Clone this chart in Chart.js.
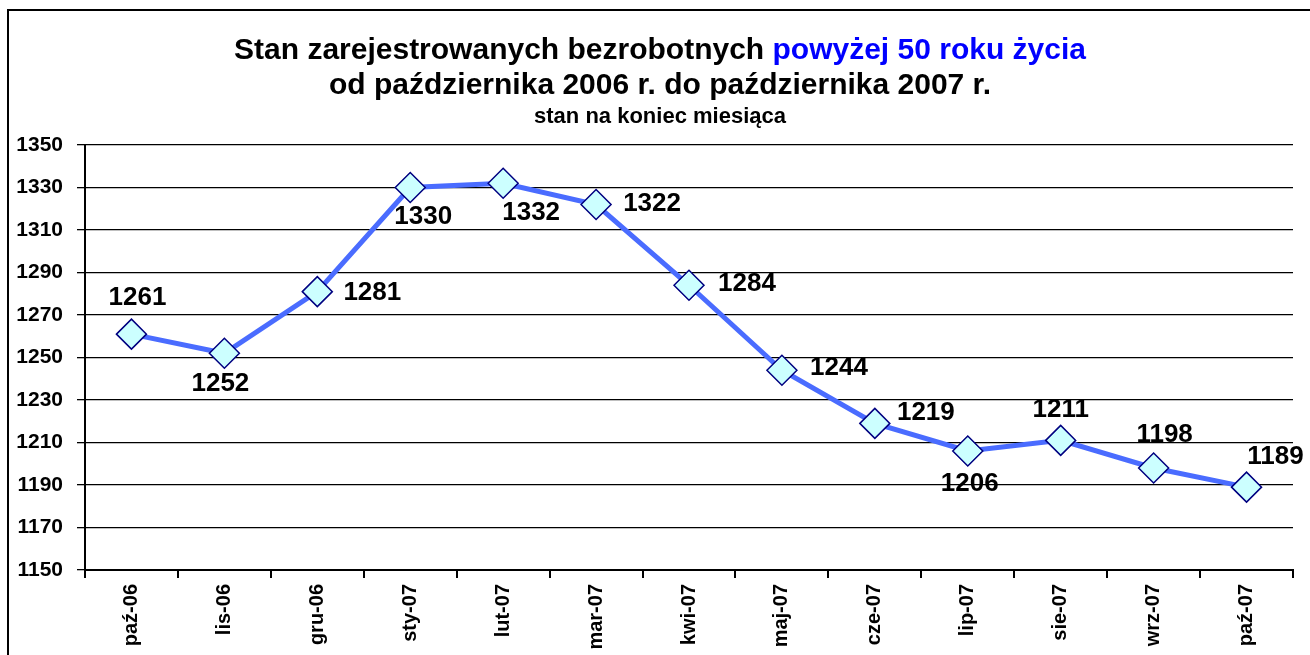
<!DOCTYPE html>
<html>
<head>
<meta charset="utf-8">
<script src="https://cdn.jsdelivr.net/npm/chart.js@4"></script>
<style>
  html, body { margin: 0; padding: 0; background: #fff; overflow: hidden; }
  canvas { display: block; }
</style>
</head>
<body>
<canvas id="chart" width="1310" height="655"></canvas>
<script>
const months = ['paź-06', 'lis-06', 'gru-06', 'sty-07', 'lut-07', 'mar-07', 'kwi-07',
    'maj-07', 'cze-07', 'lip-07', 'sie-07', 'wrz-07', 'paź-07'];
const unemployed50 = [1261, 1252, 1281, 1330, 1332, 1322, 1284, 1244, 1219, 1206, 1211, 1198, 1189];
const yMin = 1150;
const yMax = 1350;
const yStep = 20;

const titleBlack = 'Stan zarejestrowanych bezrobotnych ';
const titleBlue = 'powyżej 50 roku życia';
const titleLine2 = 'od października 2006 r. do października 2007 r.';
const titleLine3 = 'stan na koniec miesiąca';

const fontFamily = "Arial, 'Liberation Sans', sans-serif";

// frame + titles drawn straight on the canvas
const frameTitle = {
    id: 'frameTitle',
    beforeDraw(chart) {
        const ctx = chart.ctx;
        ctx.save();
        ctx.fillStyle = '#fff';
        ctx.fillRect(0, 0, chart.width, chart.height);
        ctx.strokeStyle = '#000';
        ctx.lineWidth = 2;
        ctx.strokeRect(8, 10, 1400, 800);

        const cx = 660;
        ctx.textBaseline = 'alphabetic';
        ctx.font = 'bold 30px ' + fontFamily;
        const w1 = ctx.measureText(titleBlack).width;
        const w2 = ctx.measureText(titleBlue).width;
        let x = cx - (w1 + w2) / 2;
        ctx.textAlign = 'left';
        ctx.fillStyle = '#000';
        ctx.fillText(titleBlack, x, 59);
        ctx.fillStyle = '#0000ff';
        ctx.fillText(titleBlue, x + w1, 59);

        ctx.textAlign = 'center';
        ctx.fillStyle = '#000';
        ctx.font = 'bold 30px ' + fontFamily;
        ctx.fillText(titleLine2, cx, 94);
        ctx.font = 'bold 22px ' + fontFamily;
        ctx.fillText(titleLine3, cx, 123);
        ctx.restore();
    }
};

// value labels next to each point
const pointLabels = {
    id: 'pointLabels',
    afterDatasetsDraw(chart, args, opts) {
        const ctx = chart.ctx;
        const meta = chart.getDatasetMeta(0);
        const values = chart.data.datasets[0].data;
        ctx.save();
        ctx.font = 'bold 26px ' + fontFamily;
        ctx.fillStyle = '#000';
        ctx.textAlign = 'center';
        ctx.textBaseline = 'middle';
        meta.data.forEach((pt, i) => {
            ctx.fillText(String(values[i]), pt.x + opts.dx[i], pt.y + opts.dy[i]);
        });
        ctx.restore();
    }
};

new Chart(document.getElementById('chart').getContext('2d'), {
    type: 'line',
    data: {
        labels: months,
        datasets: [{
            data: unemployed50,
            borderColor: '#4a6cff',
            borderWidth: 5,
            tension: 0,
            pointStyle: 'rectRot',
            pointRadius: 15,
            pointBackgroundColor: '#ccffff',
            pointBorderColor: '#000080',
            pointBorderWidth: 1.5,
        }],
    },
    options: {
        responsive: false,
        animation: false,
        events: [],
        layout: { padding: { top: 145, left: 0, right: 17, bottom: 0 } },
        plugins: {
            legend: { display: false },
            title: { display: false },
            tooltip: { enabled: false },
            pointLabels: {
                dx: [6, -4, 55, 13, 28, 56, 58, 57, 51, 2, 0, 11, 29],
                dy: [-36, 31, 1, 29, 30, -1, -1, -2, -11, 33, -31, -33, -30],
            },
        },
        scales: {
            x: {
                offset: true,
                afterFit: s => { s.height = 85; },
                grid: {
                    offset: true,
                    drawOnChartArea: false,
                    drawTicks: true,
                    tickLength: 8,
                    color: '#000',
                    lineWidth: 2,
                },
                border: { color: '#000', width: 2 },
                ticks: {
                    autoSkip: false,
                    minRotation: 90,
                    maxRotation: 90,
                    padding: 6,
                    color: '#000',
                    font: { family: fontFamily, size: 20, weight: 'bold' },
                },
            },
            y: {
                min: yMin,
                max: yMax,
                afterFit: s => { s.width = 85; },
                grid: {
                    color: '#000',
                    lineWidth: 1.3,
                    tickLength: 8,
                },
                border: { color: '#000', width: 2 },
                ticks: {
                    stepSize: yStep,
                    padding: 14,
                    color: '#000',
                    font: { family: fontFamily, size: 21, weight: 'bold' },
                    callback: v => String(v),
                },
            },
        },
    },
    plugins: [frameTitle, pointLabels],
});
</script>
</body>
</html>
